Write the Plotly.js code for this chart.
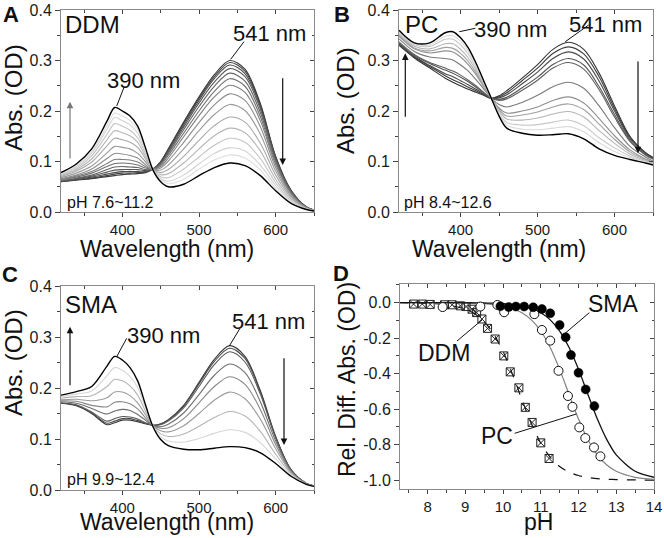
<!DOCTYPE html>
<html><head><meta charset="utf-8">
<script src="https://cdn.plot.ly/plotly-3.0.1.min.js"></script>
<style>html,body{margin:0;padding:0;background:#fff}#chart{width:664px;height:538px}</style>
</head><body><div id="chart"></div>
<script>
// ---------- DATA ----------
const wavelength = [320,340,360,380,390,400,410,420,430,440,450,460,480,500,520,540,560,580,600,620,640,650];

// Panel A (DDM), pH 7.6 -> 11.2
const A01 = [0.060,0.063,0.066,0.070,0.072,0.074,0.075,0.076,0.078,0.085,0.100,0.125,0.178,0.228,0.272,0.300,0.283,0.215,0.110,0.043,0.010,0.004];
const A02 = [0.060,0.064,0.067,0.072,0.075,0.077,0.077,0.078,0.079,0.085,0.099,0.124,0.176,0.225,0.268,0.296,0.279,0.212,0.109,0.043,0.010,0.004];
const A03 = [0.061,0.064,0.069,0.075,0.078,0.080,0.080,0.080,0.080,0.085,0.098,0.122,0.172,0.221,0.264,0.291,0.274,0.209,0.107,0.042,0.010,0.004];
const A04 = [0.061,0.066,0.071,0.079,0.083,0.084,0.084,0.084,0.082,0.085,0.097,0.119,0.168,0.216,0.257,0.284,0.268,0.204,0.105,0.041,0.010,0.004];
const A05 = [0.062,0.067,0.073,0.084,0.089,0.090,0.089,0.088,0.084,0.085,0.095,0.116,0.163,0.209,0.249,0.275,0.259,0.197,0.102,0.040,0.009,0.004];
const A06 = [0.063,0.069,0.077,0.090,0.096,0.097,0.096,0.093,0.087,0.085,0.093,0.112,0.156,0.200,0.239,0.264,0.249,0.189,0.098,0.038,0.009,0.004];
const A07 = [0.064,0.071,0.080,0.096,0.104,0.104,0.103,0.099,0.090,0.085,0.090,0.107,0.149,0.191,0.228,0.251,0.237,0.181,0.094,0.037,0.009,0.004];
const A08 = [0.066,0.073,0.085,0.106,0.116,0.115,0.112,0.107,0.094,0.084,0.087,0.101,0.138,0.177,0.212,0.234,0.221,0.169,0.088,0.035,0.008,0.003];
const A09 = [0.068,0.077,0.091,0.117,0.130,0.128,0.125,0.116,0.100,0.084,0.083,0.093,0.125,0.161,0.193,0.213,0.201,0.154,0.081,0.032,0.008,0.003];
const A10 = [0.070,0.081,0.099,0.131,0.146,0.143,0.138,0.128,0.106,0.084,0.078,0.084,0.110,0.142,0.171,0.188,0.178,0.136,0.073,0.029,0.007,0.003];
const A11 = [0.072,0.084,0.105,0.143,0.161,0.157,0.151,0.138,0.111,0.084,0.074,0.076,0.097,0.125,0.151,0.166,0.157,0.121,0.065,0.026,0.007,0.003];
const A12 = [0.074,0.087,0.111,0.154,0.175,0.170,0.162,0.147,0.116,0.083,0.070,0.068,0.085,0.109,0.132,0.146,0.138,0.106,0.058,0.023,0.006,0.002];
const A13 = [0.075,0.090,0.116,0.164,0.187,0.181,0.173,0.156,0.121,0.083,0.066,0.061,0.073,0.095,0.116,0.127,0.121,0.093,0.052,0.021,0.006,0.002];
const A14 = [0.077,0.092,0.120,0.171,0.196,0.190,0.181,0.163,0.124,0.083,0.063,0.056,0.065,0.085,0.103,0.113,0.107,0.083,0.047,0.019,0.005,0.002];
const A15 = [0.078,0.095,0.125,0.180,0.207,0.200,0.190,0.170,0.128,0.083,0.060,0.050,0.055,0.072,0.088,0.097,0.092,0.072,0.042,0.017,0.005,0.002];

// Panel B (PC), pH 8.4 -> 12.6
const B01 = [0.330,0.305,0.285,0.265,0.257,0.250,0.243,0.237,0.231,0.225,0.230,0.240,0.265,0.292,0.322,0.336,0.322,0.275,0.210,0.150,0.118,0.108];
const B02 = [0.332,0.307,0.288,0.270,0.262,0.255,0.247,0.240,0.232,0.225,0.228,0.236,0.260,0.285,0.314,0.327,0.313,0.268,0.205,0.148,0.117,0.107];
const B03 = [0.333,0.308,0.290,0.274,0.268,0.260,0.252,0.243,0.234,0.225,0.226,0.232,0.254,0.277,0.304,0.317,0.303,0.259,0.200,0.145,0.116,0.106];
const B04 = [0.335,0.310,0.294,0.281,0.275,0.267,0.258,0.247,0.236,0.225,0.223,0.227,0.246,0.267,0.292,0.304,0.291,0.248,0.193,0.142,0.114,0.105];
const B05 = [0.337,0.312,0.296,0.285,0.279,0.271,0.261,0.250,0.237,0.225,0.221,0.224,0.241,0.261,0.285,0.296,0.283,0.242,0.188,0.140,0.113,0.105];
const B06 = [0.343,0.318,0.307,0.304,0.301,0.291,0.279,0.262,0.244,0.225,0.213,0.208,0.217,0.231,0.248,0.257,0.245,0.210,0.167,0.130,0.109,0.101];
const B07 = [0.348,0.323,0.315,0.319,0.317,0.307,0.292,0.272,0.248,0.225,0.206,0.196,0.200,0.208,0.221,0.228,0.216,0.185,0.151,0.123,0.105,0.099];
const B08 = [0.350,0.325,0.319,0.326,0.324,0.314,0.298,0.276,0.251,0.225,0.203,0.190,0.192,0.198,0.208,0.214,0.203,0.174,0.144,0.119,0.104,0.098];
const B09 = [0.353,0.328,0.323,0.333,0.333,0.322,0.305,0.281,0.253,0.225,0.200,0.184,0.182,0.186,0.194,0.199,0.188,0.161,0.136,0.115,0.102,0.097];
const B10 = [0.356,0.331,0.328,0.342,0.342,0.331,0.313,0.286,0.256,0.225,0.196,0.177,0.172,0.173,0.178,0.182,0.171,0.147,0.127,0.111,0.100,0.095];
const B11 = [0.358,0.333,0.331,0.348,0.349,0.338,0.319,0.291,0.258,0.225,0.193,0.172,0.164,0.163,0.166,0.169,0.159,0.137,0.120,0.108,0.099,0.094];
const B12 = [0.360,0.335,0.335,0.355,0.357,0.345,0.325,0.295,0.260,0.225,0.190,0.166,0.156,0.152,0.153,0.155,0.145,0.125,0.112,0.104,0.097,0.093];

// Panel C (SMA), pH 9.9 -> 12.4
const C01 = [0.170,0.165,0.150,0.128,0.132,0.137,0.137,0.134,0.130,0.127,0.130,0.138,0.166,0.211,0.256,0.283,0.262,0.195,0.105,0.040,0.013,0.008];
const C02 = [0.170,0.166,0.151,0.131,0.135,0.140,0.140,0.136,0.131,0.127,0.129,0.137,0.164,0.208,0.252,0.278,0.258,0.192,0.104,0.040,0.013,0.008];
const C03 = [0.171,0.167,0.153,0.135,0.140,0.144,0.143,0.139,0.132,0.127,0.128,0.135,0.161,0.203,0.246,0.271,0.251,0.188,0.102,0.039,0.013,0.008];
const C04 = [0.173,0.170,0.160,0.149,0.155,0.158,0.156,0.148,0.137,0.126,0.124,0.129,0.151,0.187,0.225,0.247,0.230,0.173,0.096,0.038,0.013,0.008];
const C05 = [0.175,0.174,0.166,0.163,0.172,0.173,0.169,0.159,0.142,0.126,0.121,0.122,0.140,0.171,0.203,0.222,0.207,0.158,0.089,0.036,0.012,0.008];
const C06 = [0.177,0.178,0.175,0.181,0.192,0.192,0.185,0.171,0.148,0.126,0.116,0.114,0.126,0.150,0.176,0.192,0.179,0.139,0.081,0.034,0.012,0.008];
const C07 = [0.180,0.183,0.185,0.203,0.217,0.214,0.204,0.186,0.155,0.125,0.110,0.105,0.110,0.125,0.142,0.154,0.145,0.115,0.070,0.032,0.012,0.007];
const C08 = [0.183,0.188,0.194,0.224,0.240,0.235,0.223,0.201,0.162,0.125,0.104,0.096,0.094,0.101,0.111,0.118,0.113,0.093,0.061,0.029,0.011,0.007];
const C09 = [0.186,0.193,0.203,0.243,0.262,0.255,0.240,0.214,0.168,0.124,0.099,0.087,0.080,0.079,0.082,0.085,0.083,0.073,0.052,0.027,0.011,0.007];

// Panel D: titration points
const ddmPH  = [7.63,7.86,8.07,8.45,8.65,8.87,9.02,9.18,9.30,9.44,9.59,9.79,10.02,10.19,10.42,10.59,10.77,11.00,11.22];
const ddmAbs = [-0.008,-0.008,-0.010,-0.012,-0.012,-0.018,-0.022,-0.037,-0.056,-0.092,-0.145,-0.205,-0.300,-0.390,-0.480,-0.590,-0.675,-0.790,-0.878];
const pcPH   = [8.40,9.40,9.85,10.03,10.83,11.03,11.25,11.47,11.72,11.84,12.02,12.18,12.41,12.58];
const pcAbs  = [-0.025,-0.022,-0.013,-0.054,-0.065,-0.154,-0.214,-0.384,-0.526,-0.587,-0.703,-0.763,-0.816,-0.866];
const smaPH  = [9.93,10.15,10.34,10.56,10.80,11.03,11.25,11.50,11.66,11.80,12.00,12.19,12.42];
const smaAbs = [-0.020,-0.025,-0.022,-0.022,-0.026,-0.036,-0.060,-0.126,-0.195,-0.295,-0.395,-0.489,-0.583];
// Panel D: fitted curves
const fitPH  = [7.25,8,8.5,9,9.25,9.5,9.75,10,10.25,10.5,10.75,11,11.25,11.5,11.75,12,12.25,12.5,12.75,13,13.5,14];
const ddmFit = [0,-0.004,-0.012,-0.037,-0.063,-0.107,-0.176,-0.275,-0.403,-0.546,-0.681,-0.792,-0.871,-0.923,-0.955,-0.974,-0.985,-0.992,-0.995,-0.997,-0.999,-1.0];
const pcFit  = [0,-0.0002,-0.0006,-0.002,-0.003,-0.006,-0.011,-0.019,-0.033,-0.057,-0.097,-0.160,-0.253,-0.376,-0.517,-0.656,-0.772,-0.858,-0.915,-0.950,-0.984,-0.995];
const smaFit = [0,0,-0.0002,-0.0006,-0.001,-0.002,-0.003,-0.006,-0.011,-0.019,-0.033,-0.057,-0.097,-0.160,-0.253,-0.376,-0.517,-0.656,-0.772,-0.858,-0.950,-0.984];

const yTickVals = [0,-0.2,-0.4,-0.6,-0.8,-1.0];
const yTickText = ['0.0','-0.2','-0.4','-0.6','-0.8','-1.0'];

// ---------- STYLE ----------
const FONT = 'Liberation Sans, Arial, Helvetica, sans-serif';
const W = 664, H = 538;
const colorsA = ['#3a3a3a','#434343','#4d4d4d','#585858','#646464','#717171','#7e7e7e','#8c8c8c','#9a9a9a','#a8a8a8','#b6b6b6','#c4c4c4','#d2d2d2','#dedede','#000000'];
const colorsB = ['#333333','#3d3d3d','#484848','#555555','#606060','#7a7a7a','#909090','#a0a0a0','#b4b4b4','#c8c8c8','#dadada','#000000'];
const colorsC = ['#3a3a3a','#4a4a4a','#5a5a5a','#6e6e6e','#888888','#9c9c9c','#b4b4b4','#d6d6d6','#000000'];

const seriesA = [A01,A02,A03,A04,A05,A06,A07,A08,A09,A10,A11,A12,A13,A14,A15];
const seriesB = [B01,B02,B03,B04,B05,B06,B07,B08,B09,B10,B11,B12];
const seriesC = [C01,C02,C03,C04,C05,C06,C07,C08,C09];

const traces = [];
function addSpectra(series, colors, xa, ya) {
  series.forEach((s, i) => {
    const last = i === series.length - 1;
    traces.push({type:'scatter', mode:'lines', x: wavelength, y: s, xaxis: xa, yaxis: ya,
      line:{color: colors[i], width: last ? 1.4 : 1.1, shape:'spline', smoothing:0.9},
      hoverinfo:'skip', showlegend:false});
  });
}
addSpectra(seriesA, colorsA, 'x', 'y');
addSpectra(seriesB, colorsB, 'x2', 'y2');
addSpectra(seriesC, colorsC, 'x3', 'y3');

function fitLine(yv, color, dash, width) {
  traces.push({type:'scatter', mode:'lines', x: fitPH, y: yv, xaxis:'x4', yaxis:'y4',
    line:{color, width, dash, shape:'spline', smoothing:0.8}, hoverinfo:'skip', showlegend:false});
}
fitLine(ddmFit, '#111', 'dash', 1.2);
fitLine(pcFit, '#808080', 'solid', 1.2);
fitLine(smaFit, '#111', 'solid', 1.3);

traces.push({type:'scatter', mode:'markers', x: ddmPH, y: ddmAbs, xaxis:'x4', yaxis:'y4',
  marker:{symbol:'square-x-open', size:8, color:'#222', line:{width:1, color:'#222'}}, hoverinfo:'skip', showlegend:false});
traces.push({type:'scatter', mode:'markers', x: pcPH, y: pcAbs, xaxis:'x4', yaxis:'y4',
  marker:{symbol:'circle', size:9, color:'#ffffff', line:{width:1, color:'#111'}}, hoverinfo:'skip', showlegend:false});
traces.push({type:'scatter', mode:'markers', x: smaPH, y: smaAbs, xaxis:'x4', yaxis:'y4',
  marker:{symbol:'circle', size:9, color:'#000', line:{width:0.5, color:'#000'}}, hoverinfo:'skip', showlegend:false});

// dummy traces for the overlay (inside-tick) axes
for (let k = 5; k <= 8; k++) {
  traces.push({type:'scatter', mode:'lines', x:[], y:[], xaxis:'x'+k, yaxis:'y'+k, hoverinfo:'skip', showlegend:false});
}

const px = v => v / W;
const py = v => 1 - v / H;
const TICKC = '#444';
function mainAx(domain, range, anchor, dtick, mdtick, extra) {
  return Object.assign({domain, range, anchor, showline:true, linecolor:'#8a8a8a', linewidth:1, mirror:true,
    ticks:'outside', ticklen:5, tickwidth:1, tickcolor:TICKC, tickmode:'linear', tick0:0, dtick,
    minor:{ticks:'outside', ticklen:3, tickwidth:1, tickcolor:TICKC, tickmode:'linear', tick0:0, dtick:mdtick, showgrid:false},
    showgrid:false, zeroline:false, automargin:false, fixedrange:true,
    tickfont:{family:FONT, size:16, color:'#1a1a1a'}}, extra || {});
}
function overAx(over, anchor, side, range, dtick, mdtick) {
  return {overlaying: over, anchor, side, range, showline:false, ticks:'inside', ticklen:4, tickwidth:1, tickcolor:TICKC,
    tickmode:'linear', tick0:0, dtick, showticklabels:false, showgrid:false, zeroline:false, fixedrange:true,
    minor:{ticks:'inside', ticklen:2.5, tickwidth:1, tickcolor:TICKC, tickmode:'linear', tick0:0, dtick:mdtick, showgrid:false}};
}

const dAx = [px(61), px(314)], dBx = [px(399), px(653)], dDx = [px(400), px(654)];
const dABy = [py(212), py(10)], dCy = [py(490), py(286)], dDy = [py(489), py(284)];
const wlRange = [320, 650], absRange = [0, 0.4], phRange = [7.27, 14], relRange = [-1.05, 0.105];
const xTickExtra = {ticklen:4, tickfont:{family:FONT, size:15, color:'#1a1a1a'}};

const layout = {
  width: W, height: H, margin:{l:0, r:0, t:0, b:0}, paper_bgcolor:'#fff', plot_bgcolor:'#fff', showlegend:false,
  font:{family:FONT, color:'#111'},
  xaxis:  mainAx(dAx, wlRange, 'y', 100, 50, xTickExtra),
  yaxis:  mainAx(dABy, absRange, 'x', 0.1, 0.05, {tickformat:'.1f'}),
  xaxis2: mainAx(dBx, wlRange, 'y2', 100, 50, xTickExtra),
  yaxis2: mainAx(dABy, absRange, 'x2', 0.1, 0.05, {tickformat:'.1f'}),
  xaxis3: mainAx(dAx, wlRange, 'y3', 100, 50, xTickExtra),
  yaxis3: mainAx(dCy, absRange, 'x3', 0.1, 0.05, {tickformat:'.1f'}),
  xaxis4: mainAx(dDx, phRange, 'y4', 1, 0.5, xTickExtra),
  yaxis4: mainAx(dDy, relRange, 'x4', 0.2, 0.1, {tickmode:'array', tickvals:yTickVals, ticktext:yTickText}),
  xaxis5: overAx('x', 'y', 'top', wlRange, 100, 50),
  yaxis5: overAx('y', 'x', 'right', absRange, 0.1, 0.05),
  xaxis6: overAx('x2', 'y2', 'top', wlRange, 100, 50),
  yaxis6: overAx('y2', 'x2', 'right', absRange, 0.1, 0.05),
  xaxis7: overAx('x3', 'y3', 'top', wlRange, 100, 50),
  yaxis7: overAx('y3', 'x3', 'right', absRange, 0.1, 0.05),
  xaxis8: overAx('x4', 'y4', 'top', phRange, 1, 0.5),
  yaxis8: overAx('y4', 'x4', 'right', relRange, 0.2, 0.1),
  annotations: [], shapes: []
};

function txt(t, x, y, size, opts) {
  layout.annotations.push(Object.assign({text:t, x:px(x), y:py(y), xref:'paper', yref:'paper', showarrow:false,
    xanchor:'center', yanchor:'middle', font:{family:FONT, size, color:'#111'}}, opts || {}));
}
function leader(x0, y0, x1, y1) {
  layout.shapes.push({type:'line', xref:'paper', yref:'paper', x0:px(x0), y0:py(y0), x1:px(x1), y1:py(y1),
    line:{color:'#111', width:1}});
}
function arrow(x, yHead, yTail, color) {
  layout.annotations.push({text:'', x:px(x), y:py(yHead), xref:'paper', yref:'paper', showarrow:true,
    ax:0, ay:(yTail - yHead), arrowhead:2, arrowsize:1.1, arrowwidth:1.2, arrowcolor:color, standoff:0, startstandoff:0});
}

// panel letters
txt('<b>A</b>', 11, 0, 22, {yanchor:'top'});
txt('<b>B</b>', 342, 0, 22, {yanchor:'top'});
txt('<b>C</b>', 10, 260, 22, {yanchor:'top'});
txt('<b>D</b>', 341, 259, 22, {yanchor:'top'});

// Panel A texts
txt('DDM', 63, 24, 24, {xanchor:'left'});
txt('541 nm', 269.5, 33, 22);
txt('390 nm', 143, 80, 22);
txt('pH 7.6~11.2', 65, 202.5, 16, {xanchor:'left'});
txt('Abs. (OD)', 13, 98, 24, {textangle:-90});
txt('Wavelength (nm)', 167.5, 249, 23);
leader(116.7, 106, 124, 87.3);
leader(230.7, 59.3, 244, 41.7);
arrow(70, 101.7, 160, '#777');
arrow(282.7, 165, 76.7, '#111');

// Panel B texts
txt('PC', 403, 24, 24, {xanchor:'left'});
txt('390 nm', 510, 30, 22);
txt('541 nm', 605.5, 24, 22);
txt('pH 8.4~12.6', 402, 202.5, 16, {xanchor:'left'});
txt('Abs. (OD)', 345, 101, 24, {textangle:-90});
txt('Wavelength (nm)', 498.7, 249, 23);
leader(459.3, 31.7, 475.3, 28.3);
leader(565.3, 41.7, 588.7, 25);
arrow(405.3, 53.3, 118.3, '#111');
arrow(638, 153.3, 60, '#111');

// Panel C texts
txt('SMA', 63, 304, 24, {xanchor:'left'});
txt('390 nm', 163, 335, 22);
txt('541 nm', 268, 321, 22);
txt('pH 9.9~12.4', 65, 479, 16, {xanchor:'left'});
txt('Abs. (OD)', 13, 363, 24, {textangle:-90});
txt('Wavelength (nm)', 167.5, 522, 23);
leader(116.7, 356.7, 126.7, 338.3);
leader(229.3, 346, 240, 328.3);
arrow(70, 326.7, 386.7, '#111');
arrow(284, 445, 356.7, '#111');

// Panel D texts
txt('Rel. Diff. Abs. (OD)', 347, 379, 23, {textangle:-90});
txt('pH', 538, 522, 23);
txt('DDM', 443.7, 353, 23);
txt('SMA', 613, 304, 23);
txt('PC', 497, 436, 23);
leader(457, 341, 482, 320);
leader(564.3, 334, 589.3, 312.7);
leader(514.7, 433.3, 576.3, 414);

Plotly.newPlot('chart', traces, layout, {staticPlot:true, displayModeBar:false});
</script></body></html>
